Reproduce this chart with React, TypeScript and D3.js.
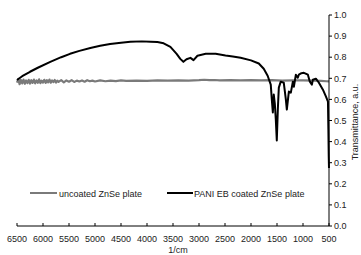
import React from "react";
import * as d3 from "d3";

const xTicks = [6500, 6000, 5500, 5000, 4500, 4000, 3500, 3000, 2500, 2000, 1500, 1000, 500];
const yTicks = [0, 0.1, 0.2, 0.3, 0.4, 0.5, 0.6, 0.7, 0.8, 0.9, 1.0];

const grayWave = [
  6500, 6475, 6450, 6425, 6400, 6375, 6350, 6325, 6300, 6275, 6250, 6225, 6200, 6175, 6150, 6125,
  6100, 6075, 6050, 6025, 6000, 5975, 5950, 5925, 5900, 5875, 5850, 5825, 5800, 5775, 5750, 5725,
  5700, 5650, 5600, 5550, 5500, 5450, 5400, 5350, 5300, 5250, 5200, 5150, 5100, 5050, 5000, 4900,
  4800, 4700, 4600, 4500, 4400, 4200, 4000, 3800, 3600, 3400, 3200, 3000, 2900, 2800, 2700, 2600,
  2400, 2200, 2000, 1800, 1600, 1400, 1200, 1000, 800, 650, 550, 500,
];
const grayVal = [
  0.68, 0.697, 0.672, 0.692, 0.676, 0.694, 0.674, 0.69, 0.677, 0.693, 0.675, 0.691, 0.678, 0.694, 0.676, 0.69,
  0.679, 0.695, 0.677, 0.689, 0.68, 0.693, 0.678, 0.691, 0.681, 0.694, 0.679, 0.69, 0.682, 0.692, 0.68, 0.689,
  0.683, 0.691, 0.681, 0.69, 0.684, 0.691, 0.683, 0.689, 0.685, 0.69, 0.684, 0.691, 0.686, 0.689, 0.685, 0.69,
  0.686, 0.689, 0.687, 0.69, 0.688, 0.689, 0.688, 0.69, 0.689, 0.69, 0.689, 0.691, 0.693, 0.691, 0.692, 0.69,
  0.691, 0.69, 0.691, 0.69, 0.691, 0.689, 0.69, 0.69, 0.689, 0.688, 0.686, 0.685,
];

const blackWave = [
  6500, 6400, 6250, 6100, 5860, 5650, 5480, 5300, 5090, 4900, 4710, 4500, 4320, 4100, 3930, 3800,
  3680, 3550, 3430, 3360, 3300, 3240, 3165, 3105, 3030, 2950, 2870, 2680, 2490, 2350, 2200, 2000,
  1850, 1755, 1680, 1620, 1600, 1580, 1562, 1542, 1523, 1504, 1484, 1465, 1428, 1370, 1330, 1311,
  1272, 1234, 1195, 1176, 1137, 1100, 1080, 1030, 983, 906, 868, 829, 810, 752, 694, 617,
  558, 520, 512, 505, 500,
];
const blackVal = [
  0.692, 0.71, 0.731, 0.75, 0.778, 0.8, 0.816, 0.83, 0.844, 0.854, 0.863, 0.869, 0.873, 0.875, 0.873, 0.872,
  0.866, 0.849, 0.816, 0.792, 0.778, 0.79, 0.797, 0.786, 0.807, 0.812, 0.816, 0.816, 0.808, 0.803, 0.797, 0.785,
  0.77, 0.745, 0.712, 0.67, 0.6, 0.538, 0.623, 0.58, 0.505, 0.405, 0.552, 0.656, 0.684, 0.679, 0.6, 0.552,
  0.637, 0.632, 0.684, 0.66, 0.717, 0.703, 0.717, 0.724, 0.726, 0.717, 0.684, 0.67, 0.693, 0.698, 0.679, 0.646,
  0.613, 0.59, 0.46, 0.33, 0.275,
];

const legendLabels = ["uncoated ZnSe plate", "PANI EB coated ZnSe plate"];
const xLabel = "1/cm";
const yLabel = "Transmittance, a.u.";

export default function App() {
  const W = 361;
  const H = 255;
  const x = d3.scaleLinear().domain([6500, 500]).range([17, 329]);
  const y = d3.scaleLinear().domain([0, 1]).range([226, 15]);
  const line = d3
    .line<[number, number]>()
    .x((d) => x(d[0]))
    .y((d) => y(d[1]));
  const grayPts = grayWave.map((w, i) => [w, grayVal[i]] as [number, number]);
  const blackPts = blackWave.map((w, i) => [w, blackVal[i]] as [number, number]);
  const font = "'Liberation Sans', Arial, sans-serif";
  const txt = "#222";
  const grayColor = "#7a7a7a";

  return (
    <svg
      width={W}
      height={H}
      style={{ position: "absolute", left: 0, top: 0, background: "#fff" }}
      fontFamily={font}
    >
      <path d={line(grayPts) || ""} fill="none" stroke={grayColor} strokeWidth={2.2} strokeLinejoin="round" />
      <path d={line(blackPts) || ""} fill="none" stroke="#000" strokeWidth={2} strokeLinejoin="round" />

      {/* x axis */}
      <line x1={x(6500)} x2={x(500)} y1={y(0)} y2={y(0)} stroke="#000" strokeWidth={1} />
      {xTicks.map((t) => (
        <g key={t}>
          <line x1={x(t)} x2={x(t)} y1={y(0)} y2={y(0) - 3} stroke="#000" strokeWidth={1} />
          <text x={x(t)} y={242} fontSize={9} textAnchor="middle" fill={txt}>
            {t}
          </text>
        </g>
      ))}
      <text x={178} y={253} fontSize={9} textAnchor="middle" fill={txt}>
        {xLabel}
      </text>

      {/* y axis */}
      <line x1={x(500)} x2={x(500)} y1={y(0)} y2={y(1)} stroke="#000" strokeWidth={1} />
      {yTicks.map((t) => (
        <g key={t}>
          <line x1={x(500)} x2={x(500) + 3} y1={y(t)} y2={y(t)} stroke="#000" strokeWidth={1} />
          <text x={334} y={y(t) + 3.2} fontSize={9} fill={txt}>
            {t.toFixed(1)}
          </text>
        </g>
      ))}
      <text
        transform={`translate(358,122) rotate(-90)`}
        fontSize={9}
        textAnchor="middle"
        fill={txt}
      >
        {yLabel}
      </text>

      {/* legend */}
      <line x1={30} x2={57} y1={193} y2={193} stroke={grayColor} strokeWidth={2} />
      <text x={59} y={196.5} fontSize={9} fill={txt}>
        {legendLabels[0]}
      </text>
      <line x1={167} x2={193} y1={193} y2={193} stroke="#000" strokeWidth={2} />
      <text x={194} y={196.5} fontSize={9} fill={txt}>
        {legendLabels[1]}
      </text>
    </svg>
  );
}
